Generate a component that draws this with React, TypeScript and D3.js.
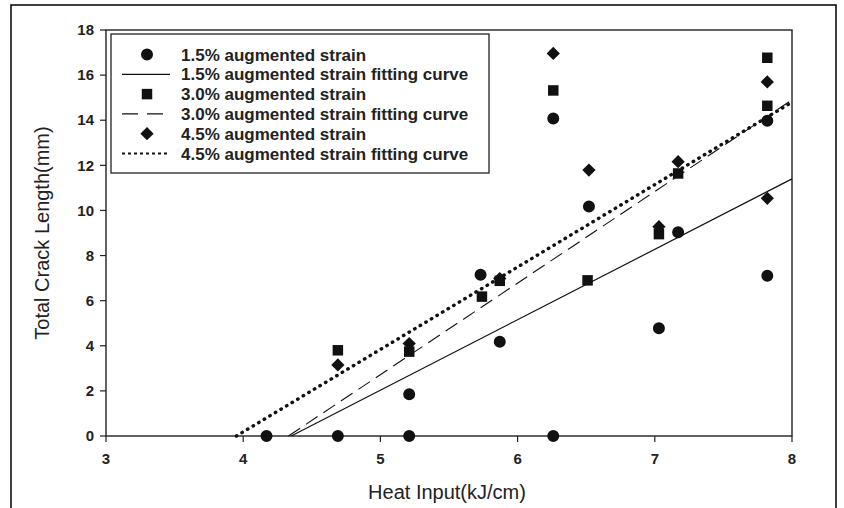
import React from "react";
import * as d3 from "d3";

const xTicks = [3, 4, 5, 6, 7, 8];
const yTicks = [0, 2, 4, 6, 8, 10, 12, 14, 16, 18];

const strain15X = [4.17, 4.69, 5.21, 5.21, 5.73, 5.87, 6.26, 6.26, 6.52, 7.03, 7.17, 7.82, 7.82];
const strain15Y = [0, 0, 0, 1.85, 7.15, 4.18, 14.08, 0, 10.17, 4.78, 9.03, 13.98, 7.1];

const strain30X = [4.69, 5.21, 5.74, 5.87, 6.26, 6.51, 7.03, 7.17, 7.82, 7.82];
const strain30Y = [3.8, 3.74, 6.18, 6.88, 15.32, 6.9, 8.95, 11.64, 16.77, 14.64];

const strain45X = [4.69, 5.21, 5.87, 6.26, 6.52, 7.03, 7.17, 7.82, 7.82];
const strain45Y = [3.15, 4.1, 6.98, 16.96, 11.79, 9.28, 12.16, 15.7, 10.54];

const fit15X = [4.35, 8];
const fit15Y = [0, 11.4];
const fit30X = [4.33, 8];
const fit30Y = [0, 14.9];
const fit45X = [3.95, 8];
const fit45Y = [0, 14.8];

const legendLabels = [
  "1.5% augmented strain",
  "1.5% augmented strain fitting curve",
  "3.0% augmented strain",
  "3.0% augmented strain fitting curve",
  "4.5% augmented strain",
  "4.5% augmented strain fitting curve",
];

const FONT = "'Liberation Sans', Arial, sans-serif";

export default function App() {
  const W = 844, H = 508;
  const x = d3.scaleLinear().domain([3, 8]).range([106, 792]);
  const y = d3.scaleLinear().domain([0, 18]).range([436, 30]);
  const line = d3.line<[number, number]>().x(d => x(d[0])).y(d => y(d[1]));

  const circle = d3.symbol().type(d3.symbolCircle).size(113)();
  const square = d3.symbol().type(d3.symbolSquare).size(110)();
  const diamond = d3.symbol().type(d3.symbolSquare).size(88)();
  const diamondTf = "rotate(45)";

  const pts = (xs: number[], ys: number[]) => xs.map((v, i) => [v, ys[i]] as [number, number]);

  const fitStyles = [
    { dash: undefined as string | undefined, w: 1.2, cap: "butt" },
    { dash: "14 7", w: 1.1, cap: "butt" },
    { dash: "0.5 6", w: 3.4, cap: "round" },
  ];
  const legendLine = [
    { dash: undefined as string | undefined, w: 1.2, cap: "butt" },
    { dash: "16 9", w: 1.1, cap: "butt" },
    { dash: "3 3", w: 2, cap: "butt" },
  ];

  const legendX = 111, legendY = 34, legendW = 378, legendH = 139;
  const rowY = (i: number) => 54.5 + i * 19.8;

  return (
    <div style={{ position: "absolute", left: 0, top: 0 }}>
      <svg width={W} height={H} style={{ display: "block", background: "#fff" }}>
        <rect x={11} y={5} width={825} height={510} fill="none" stroke="#000" strokeWidth={1.5} />

        {/* plot frame */}
        <rect x={x(3)} y={y(18)} width={x(8) - x(3)} height={y(0) - y(18)} fill="none" stroke="#222" strokeWidth={1.4} />

        {/* y ticks */}
        {yTicks.map(t => (
          <g key={"y" + t}>
            <line x1={x(3) - 6} x2={x(3)} y1={y(t)} y2={y(t)} stroke="#222" strokeWidth={1.2} />
            <text x={x(3) - 12} y={y(t)} dy="0.35em" textAnchor="end" fontFamily={FONT} fontWeight="bold" fontSize={15} fill="#222">{t}</text>
          </g>
        ))}
        {/* x ticks */}
        {xTicks.map(t => (
          <g key={"x" + t}>
            <line x1={x(t)} x2={x(t)} y1={y(0)} y2={y(0) + 6} stroke="#222" strokeWidth={1.2} />
            <text x={x(t)} y={y(0) + 28} textAnchor="middle" fontFamily={FONT} fontWeight="bold" fontSize={15} fill="#222">{t}</text>
          </g>
        ))}

        <text x={447} y={499} textAnchor="middle" fontFamily={FONT} fontSize={20} fill="#222">Heat Input(kJ/cm)</text>
        <text transform={`translate(49,${(y(0) + y(18)) / 2}) rotate(-90)`} textAnchor="middle" fontFamily={FONT} fontSize={20} fill="#222">Total Crack Length(mm)</text>

        {/* fitting lines */}
        {[pts(fit15X, fit15Y), pts(fit30X, fit30Y), pts(fit45X, fit45Y)].map((d, i) => (
          <path key={"fit" + i} d={line(d) || ""} fill="none" stroke="#111" strokeWidth={fitStyles[i].w}
            strokeDasharray={fitStyles[i].dash} strokeLinecap={fitStyles[i].cap as any} />
        ))}

        {/* markers */}
        {pts(strain15X, strain15Y).map((d, i) => (
          <path key={"c" + i} d={circle || ""} transform={`translate(${x(d[0])},${y(d[1])})`} fill="#111" />
        ))}
        {pts(strain30X, strain30Y).map((d, i) => (
          <path key={"s" + i} d={square || ""} transform={`translate(${x(d[0])},${y(d[1])})`} fill="#111" />
        ))}
        {pts(strain45X, strain45Y).map((d, i) => (
          <path key={"d" + i} d={diamond || ""} transform={`translate(${x(d[0])},${y(d[1])}) ${diamondTf}`} fill="#111" />
        ))}

        {/* legend */}
        <rect x={legendX} y={legendY} width={legendW} height={legendH} fill="#fff" stroke="#222" strokeWidth={1.3} />
        {legendLabels.map((lab, i) => {
          const cy = rowY(i);
          const k = Math.floor(i / 2);
          let sym: React.ReactNode;
          if (i % 2 === 0) {
            const p = k === 0 ? circle : k === 1 ? square : diamond;
            sym = <path d={p || ""} transform={`translate(147,${cy}) ${k === 2 ? diamondTf : ""}`} fill="#111" />;
          } else {
            const s = legendLine[k];
            sym = <line x1={122} x2={170} y1={cy} y2={cy} stroke="#111" strokeWidth={s.w} strokeDasharray={s.dash} />;
          }
          return (
            <g key={"lg" + i}>
              {sym}
              <text x={181} y={cy} dy="0.36em" fontFamily={FONT} fontWeight="bold" fontSize={17} fill="#222">{lab}</text>
            </g>
          );
        })}
      </svg>
    </div>
  );
}
